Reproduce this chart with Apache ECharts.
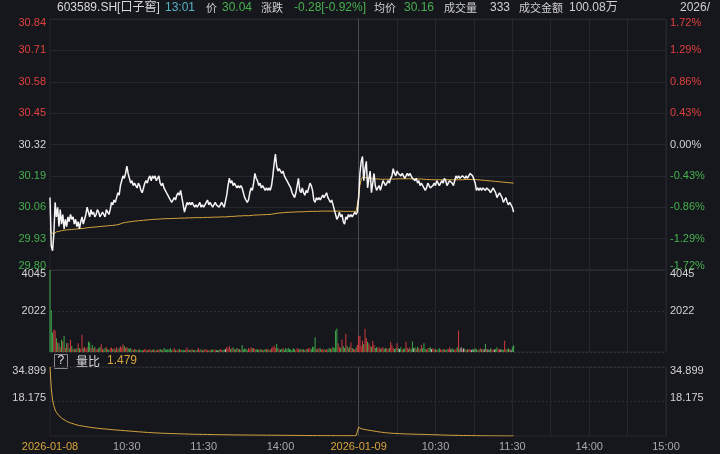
<!DOCTYPE html>
<html><head><meta charset="utf-8">
<script src="https://cdn.jsdelivr.net/npm/echarts@6/dist/echarts.min.js"></script>
<style>html,body{margin:0;padding:0;background:#16171c;}#c{width:720px;height:454px;}</style>
</head><body><div id="c"></div>
<script>
// ---------------- data ----------------
const prevClose = 30.32;
const dates = ['2026-01-08', '2026-01-09'];
const tickIdx = [0, 60, 120, 180, 241, 301, 361, 421, 481];
const tickText = ['2026-01-08', '10:30', '11:30', '14:00', '2026-01-09', '10:30', '11:30', '14:00', '15:00'];
const priceTicks = [29.80, 29.93, 30.06, 30.19, 30.32, 30.45, 30.58, 30.71, 30.84];
const priceMin = 29.80, priceMax = 30.84;
const pctMin = -1.72, pctMax = 1.72, pctStep = 0.43;
const volMax = 4045;
const ratioTicks = [18.175, 34.899];
const ratioMin = 1.451, ratioMax = 34.899;
const headCode = '603589.SH[口子窖]';
const headTime = '13:01';
const headVol = '333';
const headAmount = '100.08万';
const headAvg = 30.16;

const price1 = [
30.10,29.90,29.88,29.95,30.08,30.02,30.06,29.98,30.05,29.99,
30.03,29.97,30.01,29.98,30.02,30.00,30.03,30.01,30.02,29.99,
30.01,29.98,30.00,29.97,30.00,30.02,29.99,30.01,30.03,30.06,
30.04,30.02,30.05,30.03,30.04,30.02,30.03,30.05,30.04,30.02,
30.03,30.04,30.03,30.02,30.05,30.04,30.03,30.05,30.08,30.07,
30.09,30.08,30.10,30.12,30.11,30.15,30.17,30.19,30.18,30.20,
30.23,30.20,30.18,30.16,30.17,30.15,30.16,30.15,30.14,30.16,
30.15,30.13,30.12,30.14,30.16,30.17,30.16,30.18,30.19,30.17,
30.19,30.18,30.19,30.17,30.18,30.19,30.16,30.15,30.16,30.14,
30.13,30.12,30.11,30.10,30.09,30.08,30.09,30.10,30.09,30.11,
30.12,30.11,30.13,30.10,30.07,30.04,30.06,30.08,30.07,30.08,
30.07,30.08,30.07,30.06,30.07,30.06,30.07,30.08,30.06,30.07,
30.06,
30.07,30.08,30.09,30.07,30.08,30.07,30.06,30.07,30.08,30.07,
30.07,30.06,30.07,30.08,30.07,30.06,30.06,30.11,30.15,30.18,
30.16,30.17,30.15,30.16,30.15,30.14,30.15,30.14,30.15,30.14,
30.12,30.10,30.09,30.08,30.09,30.12,30.14,30.13,30.16,30.20,
30.18,30.17,30.15,30.16,30.14,30.15,30.14,30.13,30.14,30.13,
30.14,30.13,30.15,30.19,30.24,30.28,30.23,30.21,30.22,30.21,
30.20,30.21,30.19,30.18,30.17,30.16,30.15,30.14,30.12,30.11,
30.10,30.12,30.15,30.18,30.13,30.12,30.14,30.12,30.11,30.13,
30.12,30.14,30.16,30.15,30.13,30.09,30.08,30.10,30.09,30.10,
30.09,30.10,30.11,30.10,30.11,30.12,30.10,30.09,30.08,30.09,
30.07,30.05,30.03,30.01,30.02,30.04,30.02,30.03,30.00,29.99,
30.02,30.01,30.03,30.02,30.03,30.02,30.03,30.04,30.03,30.04
];
const price2 = [
30.10,30.20,30.25,30.27,30.17,30.22,30.25,30.14,30.18,30.21,
30.12,30.16,30.20,30.15,30.13,30.14,30.15,30.13,30.15,30.17,
30.16,30.15,30.16,30.17,30.16,30.18,30.19,30.22,30.20,30.19,
30.21,30.20,30.20,30.19,30.20,30.19,30.18,30.19,30.20,30.19,
30.20,30.19,30.18,30.18,30.17,30.18,30.16,30.17,30.15,30.16,
30.15,30.14,30.13,30.14,30.16,30.15,30.14,30.14,30.15,30.16,
30.15,30.17,30.16,30.15,30.16,30.17,30.16,30.18,30.17,30.15,
30.16,30.17,30.17,30.16,30.15,30.17,30.19,30.18,30.19,30.18,
30.18,30.19,30.19,30.18,30.19,30.18,30.19,30.20,30.20,30.19,
30.19,30.16,30.13,30.14,30.13,30.14,30.13,30.14,30.14,30.13,
30.14,30.14,30.13,30.12,30.13,30.14,30.14,30.12,30.10,30.11,
30.12,30.12,30.10,30.08,30.09,30.10,30.08,30.07,30.08,30.08,
30.06,30.04
];
const avg1 = [
29.970,29.955,29.948,29.950,29.955,29.958,29.960,29.960,29.962,29.963,
29.964,29.965,29.966,29.966,29.967,29.967,29.968,29.968,29.969,29.969,
29.970,29.970,29.971,29.971,29.972,29.972,29.973,29.973,29.974,29.975,
29.976,29.976,29.977,29.977,29.978,29.978,29.979,29.979,29.980,29.980,
29.981,29.981,29.982,29.982,29.983,29.983,29.984,29.984,29.985,29.985,
29.986,29.986,29.987,29.988,29.989,29.991,29.993,29.995,29.996,29.997,
29.998,29.999,30.000,30.000,30.001,30.002,30.002,30.003,30.003,30.004,
30.004,30.005,30.005,30.006,30.006,30.007,30.007,30.008,30.008,30.009,
30.009,30.010,30.010,30.010,30.011,30.011,30.011,30.012,30.012,30.012,
30.012,30.013,30.013,30.013,30.013,30.013,30.014,30.014,30.014,30.014,
30.014,30.015,30.015,30.015,30.015,30.015,30.015,30.016,30.016,30.016,
30.016,30.016,30.016,30.017,30.017,30.017,30.017,30.017,30.017,30.017,
30.018,
30.018,30.018,30.018,30.018,30.018,30.019,30.019,30.019,30.019,30.019,
30.019,30.019,30.020,30.020,30.020,30.020,30.020,30.020,30.021,30.021,
30.022,30.022,30.022,30.023,30.023,30.023,30.024,30.024,30.024,30.025,
30.025,30.025,30.025,30.025,30.025,30.026,30.026,30.026,30.027,30.027,
30.028,30.028,30.028,30.029,30.029,30.029,30.029,30.030,30.030,30.030,
30.030,30.030,30.031,30.032,30.033,30.034,30.035,30.036,30.036,30.037,
30.037,30.038,30.038,30.038,30.039,30.039,30.039,30.040,30.040,30.040,
30.040,30.040,30.041,30.041,30.041,30.041,30.041,30.042,30.042,30.042,
30.042,30.042,30.043,30.043,30.043,30.043,30.043,30.043,30.043,30.043,
30.044,30.044,30.044,30.044,30.044,30.044,30.044,30.044,30.044,30.044,
30.044,30.044,30.044,30.044,30.044,30.044,30.044,30.044,30.043,30.043,
30.043,30.043,30.043,30.043,30.043,30.043,30.043,30.043,30.043,30.043
];
const avg2 = [
30.100,30.150,30.175,30.185,30.182,30.183,30.185,30.182,30.181,30.182,
30.180,30.179,30.179,30.178,30.177,30.177,30.176,30.176,30.176,30.176,
30.176,30.176,30.176,30.176,30.176,30.176,30.177,30.177,30.177,30.177,
30.178,30.178,30.178,30.178,30.178,30.178,30.178,30.178,30.178,30.178,
30.178,30.178,30.178,30.178,30.178,30.178,30.177,30.177,30.177,30.177,
30.176,30.176,30.175,30.175,30.175,30.175,30.174,30.174,30.174,30.174,
30.174,30.174,30.174,30.174,30.174,30.174,30.174,30.174,30.174,30.174,
30.174,30.174,30.174,30.174,30.174,30.174,30.174,30.174,30.174,30.174,
30.174,30.174,30.175,30.175,30.175,30.175,30.175,30.175,30.175,30.175,
30.175,30.175,30.174,30.174,30.173,30.173,30.172,30.172,30.171,30.171,
30.170,30.170,30.169,30.169,30.168,30.168,30.167,30.167,30.166,30.166,
30.165,30.165,30.164,30.164,30.163,30.163,30.162,30.162,30.161,30.161,
30.160,30.160
];
const vol1 = [
4045,2060,960,1100,1060,680,465,430,250,600,
515,800,200,430,450,180,600,300,150,160,
120,200,430,180,150,850,200,260,150,230,
515,465,200,350,180,260,150,120,200,250,
400,160,120,200,250,130,100,180,220,150,
180,120,250,140,200,280,220,380,300,200,
250,180,150,200,120,100,150,120,90,110,
130,80,100,90,150,120,80,110,130,90,
100,140,90,80,120,100,150,110,90,200,
130,100,150,120,180,90,110,200,100,80,
120,150,90,110,100,80,130,220,100,90,
110,150,90,100,80,120,200,100,130,90,
100,
150,120,90,80,110,100,130,90,120,100,
80,110,150,90,100,120,140,250,200,300,
150,180,230,120,150,200,160,130,100,350,
120,180,150,100,200,140,230,180,200,150,
120,130,100,150,120,90,110,130,150,120,
130,100,200,250,320,200,400,180,130,120,
150,200,110,180,130,200,150,120,100,180,
130,90,200,150,120,160,110,140,90,150,
130,200,170,140,260,230,730,150,120,200,
180,110,150,130,100,150,120,200,150,180,
250,200,1060,1160,430,250,200,600,300,200,
900,300,180,250,465,200,150,130,220,350
];
const vol2 = [
800,800,300,560,400,1150,680,500,430,300,
250,560,350,200,250,180,250,150,200,230,
150,200,180,150,200,500,350,200,150,180,
430,200,150,230,120,150,180,500,200,150,
230,150,515,180,230,150,260,200,150,350,
200,430,150,120,180,200,230,150,180,130,
150,100,120,180,130,100,150,120,100,130,
150,230,120,180,130,100,150,230,1060,150,
230,120,180,150,100,130,120,150,100,130,
120,180,130,100,120,180,150,120,130,400,
150,120,100,180,130,100,120,150,230,130,
150,120,130,100,560,150,120,180,130,100,
250,330
];
const ratio1 = [
34.899,24.5,18.9,16.2,14.1,12.9,12.0,11.3,10.7,10.2,
9.7,9.3,8.9,8.6,8.3,8.0,7.8,7.6,7.4,7.2,
7.0,6.8,6.7,6.5,6.4,6.3,6.2,6.1,6.0,5.9,
5.8,5.7,5.6,5.5,5.4,5.35,5.3,5.2,5.15,5.1,
5.0,4.95,4.9,4.85,4.8,4.75,4.7,4.6,4.55,4.5,
4.45,4.4,4.35,4.3,4.25,4.2,4.15,4.1,4.05,4.0,
3.95,3.9,3.85,3.8,3.75,3.7,3.65,3.6,3.55,3.5,
3.45,3.4,3.36,3.32,3.28,3.24,3.2,3.16,3.12,3.08,
3.04,3.0,2.97,2.94,2.91,2.88,2.85,2.82,2.79,2.76,
2.74,2.72,2.70,2.68,2.66,2.64,2.62,2.60,2.58,2.56,
2.54,2.52,2.50,2.48,2.46,2.44,2.42,2.40,2.38,2.36,
2.34,2.32,2.30,2.29,2.28,2.27,2.26,2.25,2.24,2.23,
2.22,
2.21,2.20,2.19,2.18,2.17,2.16,2.15,2.14,2.13,2.12,
2.11,2.10,2.09,2.08,2.07,2.06,2.05,2.04,2.03,2.02,
2.01,2.00,1.99,1.98,1.97,1.96,1.96,1.95,1.95,1.94,
1.94,1.93,1.93,1.92,1.92,1.91,1.91,1.90,1.90,1.89,
1.89,1.88,1.88,1.87,1.87,1.86,1.86,1.85,1.85,1.84,
1.84,1.83,1.83,1.82,1.82,1.81,1.81,1.80,1.80,1.79,
1.79,1.78,1.78,1.77,1.77,1.76,1.76,1.75,1.75,1.74,
1.74,1.73,1.73,1.72,1.72,1.71,1.71,1.70,1.70,1.69,
1.69,1.68,1.68,1.67,1.67,1.66,1.66,1.66,1.65,1.65,
1.65,1.64,1.64,1.64,1.63,1.63,1.63,1.62,1.62,1.62,
1.62,1.61,1.61,1.61,1.61,1.61,1.60,1.60,1.60,1.60,
1.60,1.60,1.60,1.60,1.60,1.60,1.61,1.61,1.61,1.62
];
const ratio2 = [
5.7,5.3,5.0,4.85,4.7,4.55,4.45,4.35,4.25,4.15,
4.05,3.95,3.85,3.75,3.65,3.55,3.45,3.36,3.28,3.20,
3.12,3.05,2.99,2.93,2.88,2.83,2.79,2.75,2.71,2.68,
2.65,2.62,2.59,2.56,2.53,2.50,2.48,2.46,2.44,2.42,
2.40,2.38,2.36,2.34,2.32,2.30,2.28,2.27,2.26,2.25,
2.24,2.22,2.20,2.18,2.16,2.14,2.12,2.10,2.08,2.06,
2.04,2.02,2.00,1.98,1.96,1.94,1.92,1.90,1.88,1.86,
1.84,1.82,1.81,1.80,1.79,1.78,1.77,1.76,1.75,1.74,
1.73,1.72,1.71,1.70,1.69,1.68,1.67,1.66,1.65,1.64,
1.63,1.62,1.61,1.60,1.59,1.58,1.57,1.56,1.55,1.54,
1.54,1.53,1.53,1.52,1.52,1.51,1.51,1.50,1.50,1.50,
1.49,1.49,1.49,1.49,1.48,1.48,1.48,1.48,1.48,1.48,
1.479,1.479
];

// ---------------- build ----------------
const UP = '#e0403f', DOWN = '#46b04f', FLAT_TXT = '#d2d2d2';
const BAR_UP = '#cf3a3d', BAR_DOWN = '#3fa94b', BAR_FLAT = '#c4c4c4';
const GOLD = '#d9a53e';
const GRID_C = '#26272d';
const FONT = '"Liberation Sans", Arial, "Noto Sans CJK SC", sans-serif';

function sessionMinutes() {
  const out = [];
  for (let m = 9 * 60 + 30; m <= 11 * 60 + 30; m++) out.push(m);
  for (let m = 13 * 60 + 1; m <= 15 * 60; m++) out.push(m);
  return out;
}
const pad = n => (n < 10 ? '0' : '') + n;
const mins = sessionMinutes();
const categories = [];
dates.forEach(d => mins.forEach(m => categories.push(d + ' ' + pad(Math.floor(m / 60)) + ':' + pad(m % 60))));

const allPrice = price1.concat(price2);
const allAvg = avg1.concat(avg2);
const allVol = vol1.concat(vol2);
const allRatio = ratio1.concat(ratio2);
const volData = allVol.map((v, k) => {
  const p = allPrice[k], q = k === 0 ? prevClose : allPrice[k - 1];
  const c = p > q ? BAR_UP : (p < q ? BAR_DOWN : BAR_FLAT);
  return { value: v, itemStyle: { color: c } };
});

const lastPrice = price2[price2.length - 1];
const chg = lastPrice - prevClose;
const chgPct = chg / prevClose * 100;
const lastRatio = ratio2[ratio2.length - 1];

const vLineColors = ['#4a4b52'].concat(Array(8).fill(GRID_C));
function xAxisFor(gi, showLabel) {
  return {
    type: 'category', gridIndex: gi, data: categories, boundaryGap: false,
    axisLine: { show: false }, axisTick: { show: false },
    axisLabel: {
      show: showLabel, margin: 5, fontSize: 11, fontFamily: FONT,
      interval: (i) => tickIdx.indexOf(i) >= 0,
      formatter: (v, i) => {
        const k = tickIdx.indexOf(i);
        if (k < 0) return '';
        const t = tickText[k];
        return t.indexOf('-') > 0 ? '{d|' + t + '}' : '{t|' + t + '}';
      },
      rich: { d: { color: GOLD, fontSize: 11, fontFamily: FONT }, t: { color: '#a9a9ab', fontSize: 11, fontFamily: FONT } }
    },
    splitLine: {
      show: true,
      interval: (i) => i >= 241 && (i - 241) % 30 === 0,
      lineStyle: { color: vLineColors, width: 1 }
    }
  };
}

const priceColor = v => (v > prevClose + 1e-6 ? UP : (v < prevClose - 1e-6 ? DOWN : FLAT_TXT));
const pctColor = v => (v > 1e-6 ? UP : (v < -1e-6 ? DOWN : FLAT_TXT));

const lblBase = { fontSize: 11, fontFamily: FONT, lineHeight: 8, verticalAlignMaxLabel: 'top', verticalAlignMinLabel: 'bottom' };

const CJK = '11px "Noto Sans CJK SC", sans-serif';
const NUM = '12px "Liberation Sans", Arial, sans-serif';
const headItems = [
  [57, headCode, '#d8d8d8', '12px ' + FONT],
  [165, headTime, '#58b3c2', NUM],
  [206, '价', '#d0d0d0', CJK],
  [222, lastPrice.toFixed(2), DOWN, NUM],
  [261, '涨跌', '#d0d0d0', CJK],
  [294, chg.toFixed(2) + '[' + chgPct.toFixed(2) + '%]', DOWN, NUM],
  [374, '均价', '#d0d0d0', CJK],
  [404, headAvg.toFixed(2), DOWN, NUM],
  [444, '成交量', '#d0d0d0', CJK],
  [490, headVol, '#d0d0d0', NUM],
  [519, '成交金额', '#d0d0d0', CJK],
  [569, headAmount, '#d0d0d0', '12px ' + FONT],
  [680, '2026/', '#d0d0d0', NUM]
];
const graphics = headItems.map(h => ({
  type: 'text', left: h[0], top: 8, style: { text: h[1], fill: h[2], font: h[3], textVerticalAlign: 'middle', verticalAlign: 'middle' }
}));
graphics.forEach(g => { delete g.top; g.y = 8; g.x = g.left; delete g.left; });
graphics.push(
  { type: 'rect', left: 54, top: 354, shape: { width: 13, height: 14 }, style: { fill: 'transparent', stroke: '#8a8a8e', lineWidth: 1 } },
  { type: 'text', x: 57.5, y: 361, style: { text: '?', fill: '#e0e0e0', font: NUM, verticalAlign: 'middle' } },
  { type: 'text', x: 76, y: 361, style: { text: '量比', fill: '#d8d8d8', font: '12px "Noto Sans CJK SC", sans-serif', verticalAlign: 'middle' } },
  { type: 'text', x: 107, y: 361, style: { text: lastRatio.toFixed(3), fill: GOLD, font: NUM, verticalAlign: 'middle' } }
);

const option = {
  backgroundColor: '#16171c',
  animation: false,
  textStyle: { fontFamily: FONT },
  grid: [
    { left: 50, right: 54, top: 19, height: 251, show: true, borderColor: GRID_C, borderWidth: 1, backgroundColor: 'transparent' },
    { left: 50, right: 54, top: 270, height: 82, show: true, borderColor: GRID_C, borderWidth: 1, backgroundColor: 'transparent' },
    { left: 50, right: 54, top: 367, height: 69, show: true, borderColor: GRID_C, borderWidth: 1, backgroundColor: 'transparent' }
  ],
  xAxis: [xAxisFor(0, false), xAxisFor(1, false), xAxisFor(2, true)],
  yAxis: [
    { type: 'value', gridIndex: 0, position: 'left', min: priceMin, max: priceMax,
      axisLine: { show: false }, axisTick: { show: false, customValues: priceTicks }, splitLine: { show: false },
      axisLabel: Object.assign({}, lblBase, { margin: 4, customValues: priceTicks, formatter: v => v.toFixed(2), color: v => priceColor(+v) }) },
    { type: 'value', gridIndex: 0, position: 'right', min: pctMin, max: pctMax, interval: pctStep,
      axisLine: { show: false }, axisTick: { show: false },
      splitLine: { show: true, lineStyle: { color: GRID_C, width: 1 } },
      axisLabel: Object.assign({}, lblBase, { margin: 4, formatter: v => (Math.abs(v) < 1e-6 ? '0.00' : v.toFixed(2)) + '%', color: v => pctColor(+v) }) },
    { type: 'value', gridIndex: 1, position: 'left', min: 0, max: volMax, interval: volMax / 2,
      axisLine: { show: false }, axisTick: { show: false },
      splitLine: { show: true, lineStyle: { color: '#2e2f35', type: [2, 2], width: 1 } },
      axisLabel: Object.assign({}, lblBase, { margin: 4, showMinLabel: false, color: '#d2d2d2', formatter: v => String(Math.floor(v)) }) },
    { type: 'value', gridIndex: 1, position: 'right', min: 0, max: volMax, interval: volMax / 2,
      axisLine: { show: false }, axisTick: { show: false }, splitLine: { show: false },
      axisLabel: Object.assign({}, lblBase, { margin: 4, showMinLabel: false, color: '#d2d2d2', formatter: v => String(Math.floor(v)) }) },
    { type: 'value', gridIndex: 2, position: 'left', min: ratioMin, max: ratioMax,
      axisLine: { show: false }, axisTick: { show: false, customValues: ratioTicks },
      splitLine: { show: true, lineStyle: { color: '#2e2f35', type: [2, 2], width: 1 } },
      axisLabel: Object.assign({}, lblBase, { margin: 4, customValues: ratioTicks, color: '#d2d2d2', formatter: v => v.toFixed(3) }) },
    { type: 'value', gridIndex: 2, position: 'right', min: ratioMin, max: ratioMax,
      axisLine: { show: false }, axisTick: { show: false, customValues: ratioTicks }, splitLine: { show: false },
      axisLabel: Object.assign({}, lblBase, { margin: 4, customValues: ratioTicks, color: '#d2d2d2', formatter: v => v.toFixed(3) }) }
  ],
  series: [
    { name: '价', type: 'line', xAxisIndex: 0, yAxisIndex: 0, data: allPrice, showSymbol: false,
      lineStyle: { color: '#f4f4f4', width: 1.5 }, z: 3 },
    { name: '均价', type: 'line', xAxisIndex: 0, yAxisIndex: 0, data: allAvg, showSymbol: false,
      lineStyle: { color: GOLD, width: 1 }, z: 2 },
    { name: '成交量', type: 'bar', xAxisIndex: 1, yAxisIndex: 2, data: volData, barWidth: 1 },
    { name: '量比', type: 'line', xAxisIndex: 2, yAxisIndex: 4, data: allRatio, showSymbol: false,
      lineStyle: { color: GOLD, width: 1 } }
  ],
  graphic: graphics
};

const chart = echarts.init(document.getElementById('c'), null, { renderer: 'canvas' });
chart.setOption(option);
</script>
</body></html>
